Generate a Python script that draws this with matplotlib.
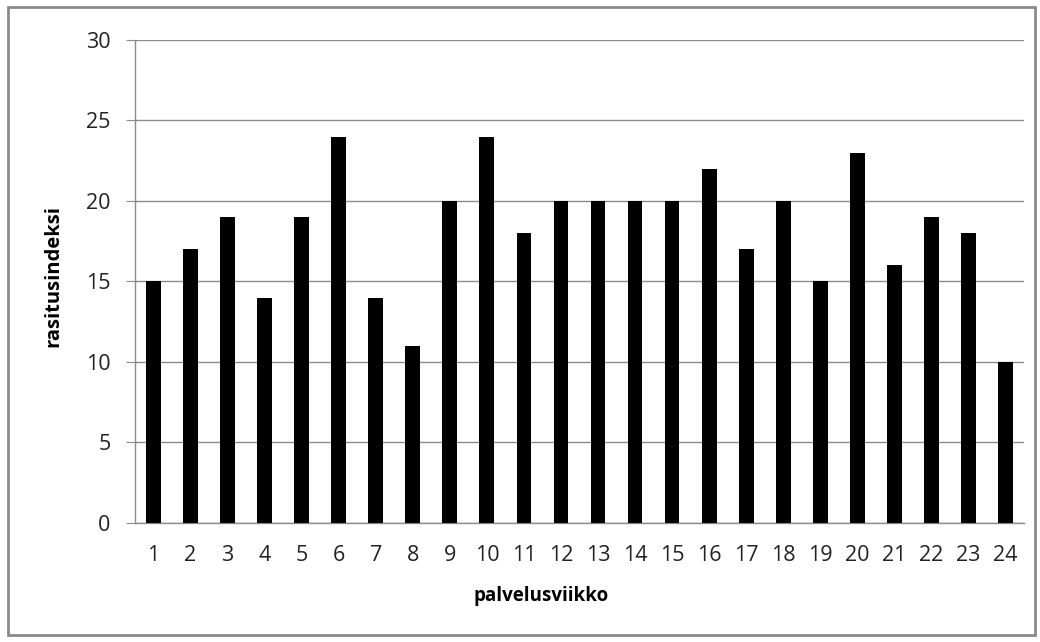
import numpy as np
from matplotlib import pyplot as plt
from matplotlib.patches import Rectangle

# rasitusindeksi per palvelusviikko
viikot = [str(i) for i in range(1, 25)]
indeksi = [15, 17, 19, 14, 19, 24, 14, 11, 20, 24, 18, 20,
           20, 20, 20, 22, 17, 20, 15, 23, 16, 19, 18, 10]

plt.rcParams['font.family'] = ['Open Sans', 'DejaVu Sans']

fig = plt.figure(figsize=(10.4, 6.42), dpi=100)
ax = fig.add_axes([0.1298, 0.1854, 0.9846 - 0.1298, 0.9377 - 0.1854])

x = np.arange(len(viikot))
ax.bar(x, indeksi, width=0.4, color='black', zorder=3)

ax.set_xlim(-0.5, len(viikot) - 0.5)
ax.set_ylim(0, 30)
ax.set_yticks(range(0, 31, 5))
ax.set_xticks(x)
ax.set_xticklabels(viikot)

grid_col = '#8c8c8c'
ax.yaxis.grid(True, color=grid_col, linewidth=1, zorder=0)
for s in ['top', 'right']:
    ax.spines[s].set_visible(False)
ax.spines['left'].set_color(grid_col)
ax.spines['bottom'].set_color(grid_col)
ax.spines['left'].set_linewidth(1)
ax.spines['bottom'].set_linewidth(1)

ax.tick_params(axis='y', length=6.5, color=grid_col, labelsize=15.5, pad=11,
               labelcolor='#222222')
ax.tick_params(axis='x', length=0, labelsize=15.5, pad=16, labelcolor='#222222')

ax.set_xlabel('palvelusviikko', fontsize=13.5, fontweight='bold', labelpad=14)
ax.xaxis.label.set_x(0.457)
ax.set_ylabel('rasitusindeksi', fontsize=14.5, fontweight='bold', labelpad=16)
ax.yaxis.label.set_y(0.511)

# outer frame
fig.patches.append(Rectangle((8 / 1040, 7 / 642), 1027 / 1040, 628 / 642,
                             transform=fig.transFigure, fill=False,
                             edgecolor='#8a8a8a', linewidth=2))

fig.savefig('out.png', dpi=100)
